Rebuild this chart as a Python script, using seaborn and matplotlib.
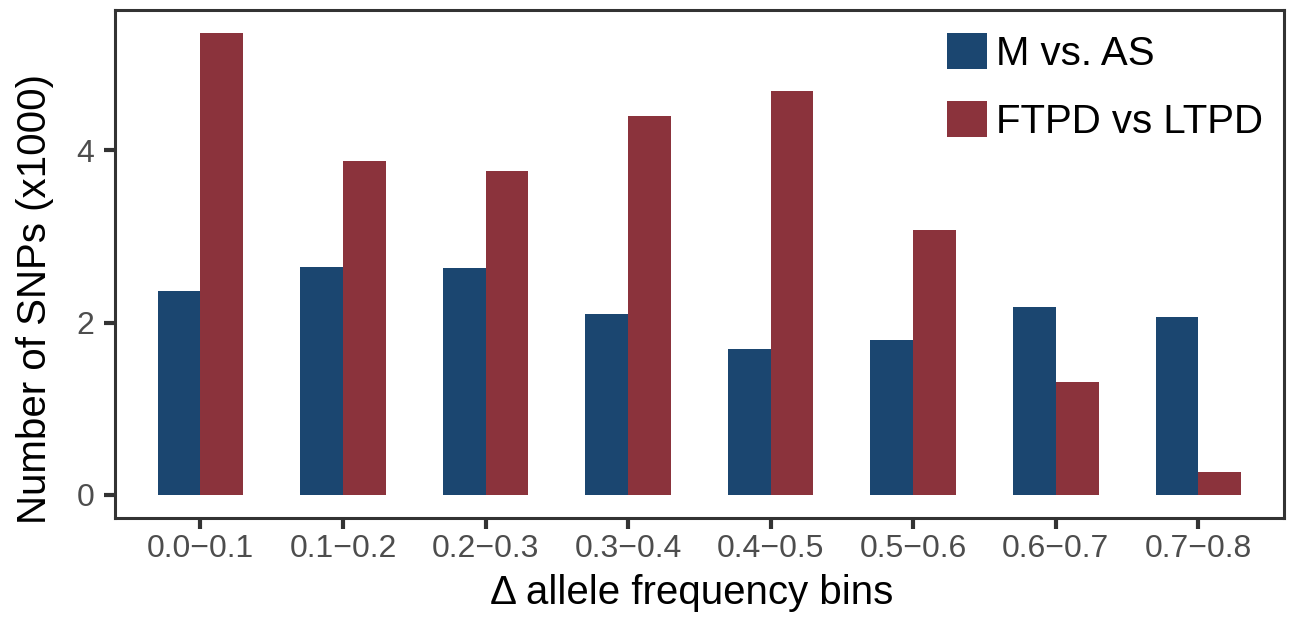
import numpy as np
import pandas as pd
import seaborn as sns
from matplotlib import pyplot as plt


# Values (in thousands of SNPs)
bins = ["0.0\u22120.1", "0.1\u22120.2", "0.2\u22120.3", "0.3\u22120.4",
        "0.4\u22120.5", "0.5\u22120.6", "0.6\u22120.7", "0.7\u22120.8"]
m_vs_as = [2.37, 2.64, 2.63, 2.10, 1.69, 1.80, 2.18, 2.06]
ftpd_vs_ltpd = [5.36, 3.88, 3.76, 4.40, 4.69, 3.08, 1.31, 0.26]
groups = ["M vs. AS", "FTPD vs LTPD"]
colors = ["#1b4670", "#8b333c"]


def build_table():
    """
    Long table for seaborn: one row per bar.
    """
    data = pd.DataFrame({
        "bin": bins * 2,
        "snps": m_vs_as + ftpd_vs_ltpd,
        "group": [groups[0]] * len(bins) + [groups[1]] * len(bins)})
    return data


def draw(data):
    sns.set_style("white")
    plt.rcParams["font.family"] = ["Liberation Sans", "DejaVu Sans"]

    fig = plt.figure(figsize=(12.93, 6.17), dpi=100)
    ax = fig.add_axes([0.0889, 0.1605, 0.904, 0.8233])

    sns.barplot(
        data=data,
        x="bin",
        y="snps",
        hue="group",
        hue_order=groups,
        palette=colors,
        saturation=1,
        width=0.6,
        errorbar=None,
        linewidth=0,
        ax=ax)

    ax.set_xlim(-0.6, 7.6)
    ax.set_ylim(-0.268, 5.628)
    ax.set_yticks([0, 2, 4])

    # panel border like ggplot
    for side in ["left", "right", "top", "bottom"]:
        ax.spines[side].set_visible(True)
        ax.spines[side].set_color("#333333")
        ax.spines[side].set_linewidth(2.2)

    ax.tick_params(axis="both", which="major", length=8, width=3,
                   color="#333333", labelcolor="#4d4d4d", labelsize=23,
                   bottom=True, left=True)
    ax.tick_params(axis="x", pad=3.5)
    ax.tick_params(axis="y", pad=7)

    ax.set_xlabel("\u0394 allele frequency bins", fontsize=29, color="black")
    ax.set_ylabel("Number of SNPs (x1000)", fontsize=29, color="black")
    ax.xaxis.set_label_coords(0.493, -0.110)
    ax.yaxis.set_label_coords(-0.052, 0.431)

    handles, labels = ax.get_legend_handles_labels()
    leg = ax.legend(handles, labels, loc="upper left",
                    bbox_to_anchor=(0.712, 0.955), frameon=False,
                    fontsize=29, handlelength=1.0, handleheight=1.0,
                    handletextpad=0.22, labelspacing=0.7, borderpad=0,
                    borderaxespad=0)
    for text in leg.get_texts():
        text.set_color("black")

    fig.savefig("out.png", dpi=100)
    plt.close(fig)


def main():
    data = build_table()
    draw(data)

main()
